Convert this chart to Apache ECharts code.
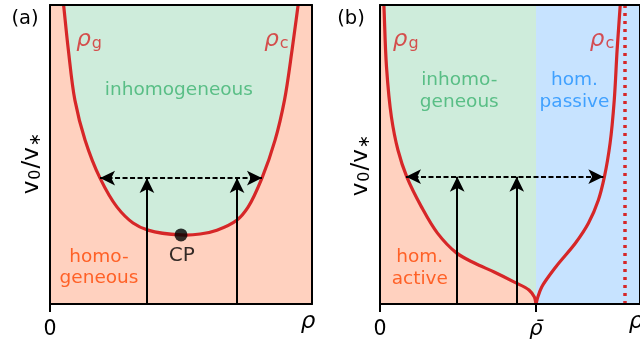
<!DOCTYPE html>
<html>
<head>
<meta charset="utf-8">
<script src="https://cdn.jsdelivr.net/npm/echarts@6/dist/echarts.min.js"></script>
<style>
  html, body { margin: 0; padding: 0; background: #fff; }
  #chart { width: 640px; height: 345px; }
</style>
</head>
<body>
<div id="chart"></div>
<script>
// ---- (a) equilibrium-like binodal: [rho, v0/v*] ----
const binodalA = [
  [5.2, 100], [7.0, 85.0], [9.5, 68.2], [13.4, 54.8], [19.1, 42.1], [25.6, 32.4],
  [31.7, 27.1], [37.4, 24.7], [50.0, 23.1], [57.3, 23.4], [63.7, 24.7], [71.4, 28.1],
  [75.6, 32.4], [80.9, 42.1], [85.9, 54.8], [89.5, 68.2], [92.4, 85.0], [94.7, 100]
];
const criticalPoint = [50.0, 23.1];
const quenchRhoA = [37.0, 71.4];
const tieLineA = { v: 42.1, from: 19.1, to: 80.9 };

// ---- (b) gas branch rho_g and crystal branch rho_c ----
const branchGasB = [
  [1.5, 100], [2.5, 79.3], [4.4, 62.5], [6.9, 51.5], [10.3, 42.5], [16.0, 32.4],
  [22.1, 23.7], [29.4, 17.1], [36.3, 13.7], [43.9, 10.7], [51.5, 7.4], [57.3, 4.7],
  [59.4, 2.3], [60.0, 0]
];
const branchCrystalB = [
  [60.0, 0], [60.7, 2.3], [62.2, 5.7], [67.6, 12.4], [75.2, 20.4], [80.2, 27.1],
  [84.0, 34.8], [86.3, 42.5], [88.5, 53.8], [90.1, 68.2], [91.2, 85.0], [92.4, 100]
];
const rhoBar = 60.0;
const rhoClosePacked = 94.3;
const quenchRhoB = [29.7, 52.6];
const tieLineB = { v: 42.6, from: 10.0, to: 85.9 };

// ---- text annotations, anchored in data coordinates ----
const notesA = [
  { name: '{r|ρ}{s|g}', at: [14.9, 88.3], color: '#d62728' },
  { name: '{r|ρ}{s|c}', at: [86.4, 88.3], color: '#d62728' },
  { name: 'inhomogeneous', at: [49.2, 71.6], color: '#3cb371' },
  { name: 'homo-\ngeneous', at: [18.7, 12.2], color: '#ff4500' },
  { name: '{cp|CP}', at: [50.3, 16.0], color: '#000' }
];
const notesB = [
  { name: '{r|ρ}{s|g}', at: [9.9, 88.3], color: '#d62728' },
  { name: '{r|ρ}{s|c}', at: [85.4, 88.3], color: '#d62728' },
  { name: 'inhomo-\ngeneous', at: [30.5, 71.2], color: '#3cb371' },
  { name: 'hom.\npassive', at: [74.8, 71.2], color: '#1e90ff' },
  { name: 'hom.\nactive', at: [15.3, 12.0], color: '#ff4500' }
];
const tickLabelsA = { 0: '0' };
const tickLabelsB = { 0: '0', 60: '{i|ρ̄}' };

const FONT = 'DejaVu Sans';
const RED = '#d62728';
const PINK = '#ffd1bf';
const GREEN = '#ceecdb';
const BLUE = '#c7e3ff';

const richText = {
  r: { fontFamily: FONT, fontSize: 23, fontStyle: 'italic', lineHeight: 24, verticalAlign: 'bottom' },
  s: { fontFamily: FONT, fontSize: 16, lineHeight: 16, padding: [13, 0, 0, 1], verticalAlign: 'bottom' },
  cp: { fontFamily: FONT, fontSize: 20, color: '#000' }
};

function frameAxes(grid, ticks, labels) {
  const line = { show: true, onZero: false, lineStyle: { color: '#000', width: 2 } };
  return {
    x: [
      {
        gridIndex: grid, type: 'value', min: 0, max: 100, position: 'bottom', z: 10,
        axisLine: line,
        axisTick: { show: true, customValues: ticks, length: 8, lineStyle: { color: '#000', width: 2 } },
        axisLabel: {
          show: true, customValues: ticks, margin: 15, color: '#000',
          fontFamily: FONT, fontSize: 20.5,
          formatter: v => labels[v] || '',
          rich: { i: { fontFamily: FONT, fontSize: 21, fontStyle: 'italic' } }
        },
        splitLine: { show: false }
      },
      {
        gridIndex: grid, type: 'value', min: 0, max: 100, position: 'top', z: 10,
        axisLine: line, axisTick: { show: false }, axisLabel: { show: false }, splitLine: { show: false }
      }
    ],
    y: [
      {
        gridIndex: grid, type: 'value', min: 0, max: 100, position: 'left', z: 10,
        axisLine: line, axisTick: { show: false }, axisLabel: { show: false }, splitLine: { show: false }
      },
      {
        gridIndex: grid, type: 'value', min: 0, max: 100, position: 'right', z: 10,
        axisLine: line, axisTick: { show: false }, axisLabel: { show: false }, splitLine: { show: false }
      }
    ]
  };
}

const axA = frameAxes(0, [0], tickLabelsA);
const axB = frameAxes(1, [0, rhoBar], tickLabelsB);

// Centripetal Catmull-Rom through pixel points, returned as an SVG path string
function splinePath(p) {
  const n = p.length;
  const get = i => {
    if (i < 0) return [2 * p[0][0] - p[1][0], 2 * p[0][1] - p[1][1]];
    if (i >= n) return [2 * p[n - 1][0] - p[n - 2][0], 2 * p[n - 1][1] - p[n - 2][1]];
    return p[i];
  };
  const dist = (a, b) => Math.pow(Math.hypot(b[0] - a[0], b[1] - a[1]), 0.5) || 1e-6;
  let d = 'M' + p[0][0] + ' ' + p[0][1];
  for (let i = 0; i < n - 1; i++) {
    const p0 = get(i - 1), p1 = p[i], p2 = p[i + 1], p3 = get(i + 2);
    const d1 = dist(p0, p1), d2 = dist(p1, p2), d3 = dist(p2, p3);
    const b1 = [0, 1].map(k =>
      (d1 * d1 * p2[k] - d2 * d2 * p0[k] + (2 * d1 * d1 + 3 * d1 * d2 + d2 * d2) * p1[k]) / (3 * d1 * (d1 + d2)));
    const b2 = [0, 1].map(k =>
      (d3 * d3 * p1[k] - d2 * d2 * p3[k] + (2 * d3 * d3 + 3 * d3 * d2 + d2 * d2) * p2[k]) / (3 * d3 * (d3 + d2)));
    d += ' C' + b1[0] + ' ' + b1[1] + ' ' + b2[0] + ' ' + b2[1] + ' ' + p2[0] + ' ' + p2[1];
  }
  return d;
}

// A smooth boundary curve; optionally fills the region closed by extra corner points
function curveSeries(xi, yi, pts, closeVia) {
  return {
    type: 'custom', xAxisIndex: xi, yAxisIndex: yi, z: 3, clip: true, silent: true,
    animation: false,
    data: pts,
    renderItem(params, api) {
      if (params.dataIndex !== 0) return null;
      const px = pts.map(q => api.coord(q));
      const d = splinePath(px);
      const children = [];
      if (closeVia) {
        const extra = closeVia.map(q => api.coord(q));
        const fd = d + extra.map(q => ' L' + q[0] + ' ' + q[1]).join('') + ' Z';
        children.push({ type: 'path', shape: { pathData: fd }, style: { fill: GREEN, stroke: null } });
      }
      children.push({
        type: 'path', shape: { pathData: d },
        style: { fill: null, stroke: RED, lineWidth: 3.2, lineJoin: 'round' }
      });
      return { type: 'group', children };
    }
  };
}

function arrowLines(xs, tie) {
  const up = xs.map(x => [
    { coord: [x, 0], symbol: 'none' },
    { coord: [x, tie.v], symbol: 'arrow' }
  ]);
  const across = [[
    { coord: [tie.from, tie.v], symbol: 'arrow', lineStyle: { type: [5, 2.5], width: 1.8 } },
    { coord: [tie.to, tie.v], symbol: 'arrow' }
  ]];
  return {
    silent: true, animation: false,
    symbolSize: [11, 15],
    label: { show: false },
    lineStyle: { color: '#000', width: 2, type: 'solid' },
    data: up.concat(across)
  };
}

function notesSeries(xi, yi, notes) {
  return {
    type: 'scatter', xAxisIndex: xi, yAxisIndex: yi, symbolSize: 0, z: 6, clip: false,
    silent: true, animation: false,
    data: notes.map(n => ({
      name: n.name, value: n.at,
      label: {
        show: true, position: 'inside', formatter: '{b}', color: n.color,
        fontFamily: FONT, fontSize: 18.5, lineHeight: 21.5, align: 'center', verticalAlign: 'middle',
        rich: {
          r: Object.assign({ color: n.color }, richText.r),
          s: Object.assign({ color: n.color }, richText.s),
          cp: richText.cp
        }
      }
    }))
  };
}

const yLabelRich = {
  v: { fontFamily: FONT, fontSize: 23, verticalAlign: 'bottom', lineHeight: 24 },
  t: { fontFamily: FONT, fontSize: 23, verticalAlign: 'bottom', lineHeight: 24 },
  s: { fontFamily: FONT, fontSize: 16, verticalAlign: 'bottom', lineHeight: 16, padding: [13, 1, 0, 1] }
};

const option = {
  animation: false,
  backgroundColor: '#fff',
  grid: [
    { left: 50, top: 5, width: 262, height: 299, show: true, backgroundColor: PINK, borderWidth: 0 },
    { left: 380, top: 5, width: 262, height: 299, show: true, backgroundColor: PINK, borderWidth: 0 }
  ],
  xAxis: axA.x.concat(axB.x),
  yAxis: axA.y.concat(axB.y),
  series: [
    // (a) binodal with the inhomogeneous region above it
    curveSeries(0, 0, binodalA, []),
    {
      type: 'line', xAxisIndex: 0, yAxisIndex: 0, z: 4, data: [],
      markLine: arrowLines(quenchRhoA, tieLineA)
    },
    {
      type: 'scatter', xAxisIndex: 0, yAxisIndex: 0, z: 5,
      data: [criticalPoint], symbolSize: 13, itemStyle: { color: '#000' }, silent: true
    },
    notesSeries(0, 0, notesA),

    // (b) passive region right of rho-bar and the close-packing line
    {
      type: 'line', xAxisIndex: 2, yAxisIndex: 2, z: 1, data: [],
      markArea: {
        silent: true,
        itemStyle: { color: BLUE, opacity: 1 },
        data: [[{ xAxis: rhoBar }, { xAxis: 100 }]]
      },
      markLine: {
        silent: true, symbol: 'none', label: { show: false },
        lineStyle: { color: RED, width: 3.5, type: [3, 5] },
        data: [{ xAxis: rhoClosePacked }]
      }
    },
    curveSeries(2, 2, branchGasB, [[rhoBar, 100]]),
    curveSeries(2, 2, branchCrystalB, null),
    {
      type: 'line', xAxisIndex: 2, yAxisIndex: 2, z: 4, data: [],
      markLine: arrowLines(quenchRhoB, tieLineB)
    },
    notesSeries(2, 2, notesB)
  ],
  graphic: [
    { type: 'text', x: 25, y: 19, style: { text: '(a)', fontFamily: FONT, fontSize: 19.5, fill: '#000', align: 'center', verticalAlign: 'middle' } },
    { type: 'text', x: 351, y: 19, style: { text: '(b)', fontFamily: FONT, fontSize: 19.5, fill: '#000', align: 'center', verticalAlign: 'middle' } },
    { type: 'text', x: 32, y: 163, rotation: Math.PI / 2,
      style: { text: '{v|v}{s|0}{t|/}{v|v}{s|∗}', rich: yLabelRich, fill: '#000', align: 'center', verticalAlign: 'middle' } },
    { type: 'text', x: 361, y: 165, rotation: Math.PI / 2,
      style: { text: '{v|v}{s|0}{t|/}{v|v}{s|∗}', rich: yLabelRich, fill: '#000', align: 'center', verticalAlign: 'middle' } },
    { type: 'text', x: 308, y: 322, style: { text: 'ρ', fontFamily: FONT, fontSize: 23, fontStyle: 'italic', fill: '#000', align: 'center', verticalAlign: 'middle' } },
    { type: 'text', x: 636, y: 322, style: { text: 'ρ', fontFamily: FONT, fontSize: 23, fontStyle: 'italic', fill: '#000', align: 'center', verticalAlign: 'middle' } }
  ]
};

const chart = echarts.init(document.getElementById('chart'), null, { renderer: 'canvas' });
chart.setOption(option);
</script>
</body>
</html>
